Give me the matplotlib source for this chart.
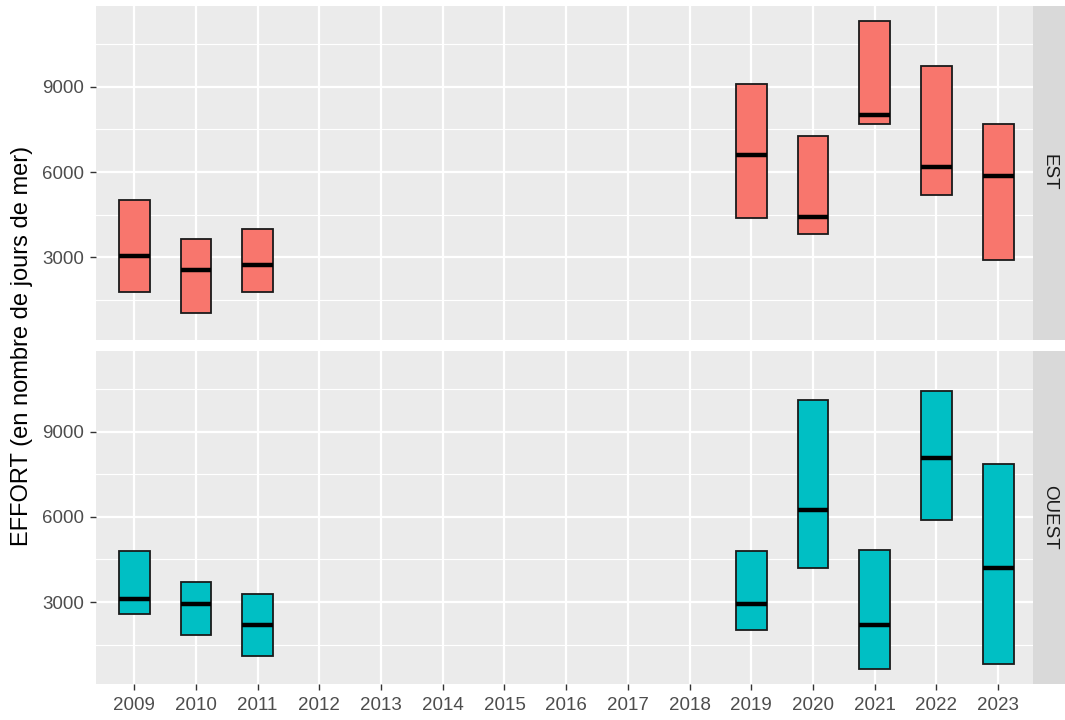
import matplotlib
matplotlib.use("Agg")
import matplotlib.pyplot as plt
import numpy as np

plt.rcParams['font.family'] = ['Liberation Sans', 'DejaVu Sans']

years = [2009, 2010, 2011, 2019, 2020, 2021, 2022, 2023]
all_years = list(range(2009, 2024))

# EST: low / median / high
est_low = [1790, 1045, 1790, 4375, 3810, 7680, 5200, 2895]
est_med = [3055, 2550, 2720, 6585, 4400, 8020, 6185, 5845]
est_high = [5025, 3645, 3990, 9115, 7280, 11315, 9750, 7680]

# OUEST: low / median / high
ouest_low = [2590, 1850, 1095, 2010, 4215, 635, 5885, 810]
ouest_med = [3120, 2945, 2200, 2945, 6235, 2200, 8080, 4215]
ouest_high = [4800, 3695, 3295, 4800, 10110, 4850, 10445, 7850]

regions = ['EST', 'OUEST']
colors = {'EST': '#F8766D', 'OUEST': '#00BFC4'}
data = {'EST': (est_low, est_med, est_high),
        'OUEST': (ouest_low, ouest_med, ouest_high)}

W, H = 1065, 720
fig = plt.figure(figsize=(W / 100, H / 100), dpi=100)

lo_all = min(est_low + ouest_low)
hi_all = max(est_high + ouest_high)
pad = 0.05 * (hi_all - lo_all)

left = 96 / W
width = (1033.3 - 96) / W
panels = [(6, 339.5), (351, 684.3)]

for i, reg in enumerate(regions):
    top_px, bot_px = panels[i]
    ax = fig.add_axes([left, 1 - bot_px / H, width, (bot_px - top_px) / H])
    ax.set_facecolor('#EBEBEB')
    for s in ax.spines.values():
        s.set_visible(False)

    lo, med, hi = data[reg]
    lo = np.array(lo); med = np.array(med); hi = np.array(hi)
    x = np.array(years)
    ax.bar(x, hi - lo, bottom=lo, width=0.5, color=colors[reg],
           edgecolor='#1A1A1A', linewidth=1.3, zorder=3)
    ax.hlines(med, x - 0.25, x + 0.25, colors='black', linewidth=3.2, zorder=4)

    ax.set_xlim(2008.38, 2023.57)
    ax.set_ylim(lo_all - pad, hi_all + pad)
    ax.set_xticks(all_years)
    ax.set_yticks([3000, 6000, 9000])
    ax.set_yticks([1500, 4500, 7500, 10500], minor=True)
    ax.grid(which='major', color='white', linewidth=1.6, zorder=0)
    ax.grid(which='minor', axis='y', color='white', linewidth=0.8, zorder=0)
    ax.set_axisbelow(True)
    ax.tick_params(axis='both', which='major', colors='#333333', length=4.3,
                   width=1.0, labelcolor='#4D4D4D', labelsize=13.5, pad=4.5)
    ax.tick_params(axis='y', which='minor', length=0)
    if i == 0:
        ax.tick_params(axis='x', which='major', length=0, labelbottom=False)
    else:
        ax.set_xticklabels([str(y) for y in all_years])

    # strip
    sax = fig.add_axes([1033.3 / W, 1 - bot_px / H, (W - 1033.3) / W, (bot_px - top_px) / H])
    sax.set_facecolor('#D9D9D9')
    sax.set_xticks([]); sax.set_yticks([])
    for s in sax.spines.values():
        s.set_visible(False)
    sax.text(0.5, 0.5, reg, rotation=270, ha='center', va='center',
             color='#1A1A1A', fontsize=13.5, transform=sax.transAxes)

fig.text(22 / W, 1 - 345.5 / H, 'EFFORT (en nombre de jours de mer)', rotation=90,
         ha='center', va='center', fontsize=17, color='black')

fig.savefig('out.png', dpi=100, facecolor='white')
